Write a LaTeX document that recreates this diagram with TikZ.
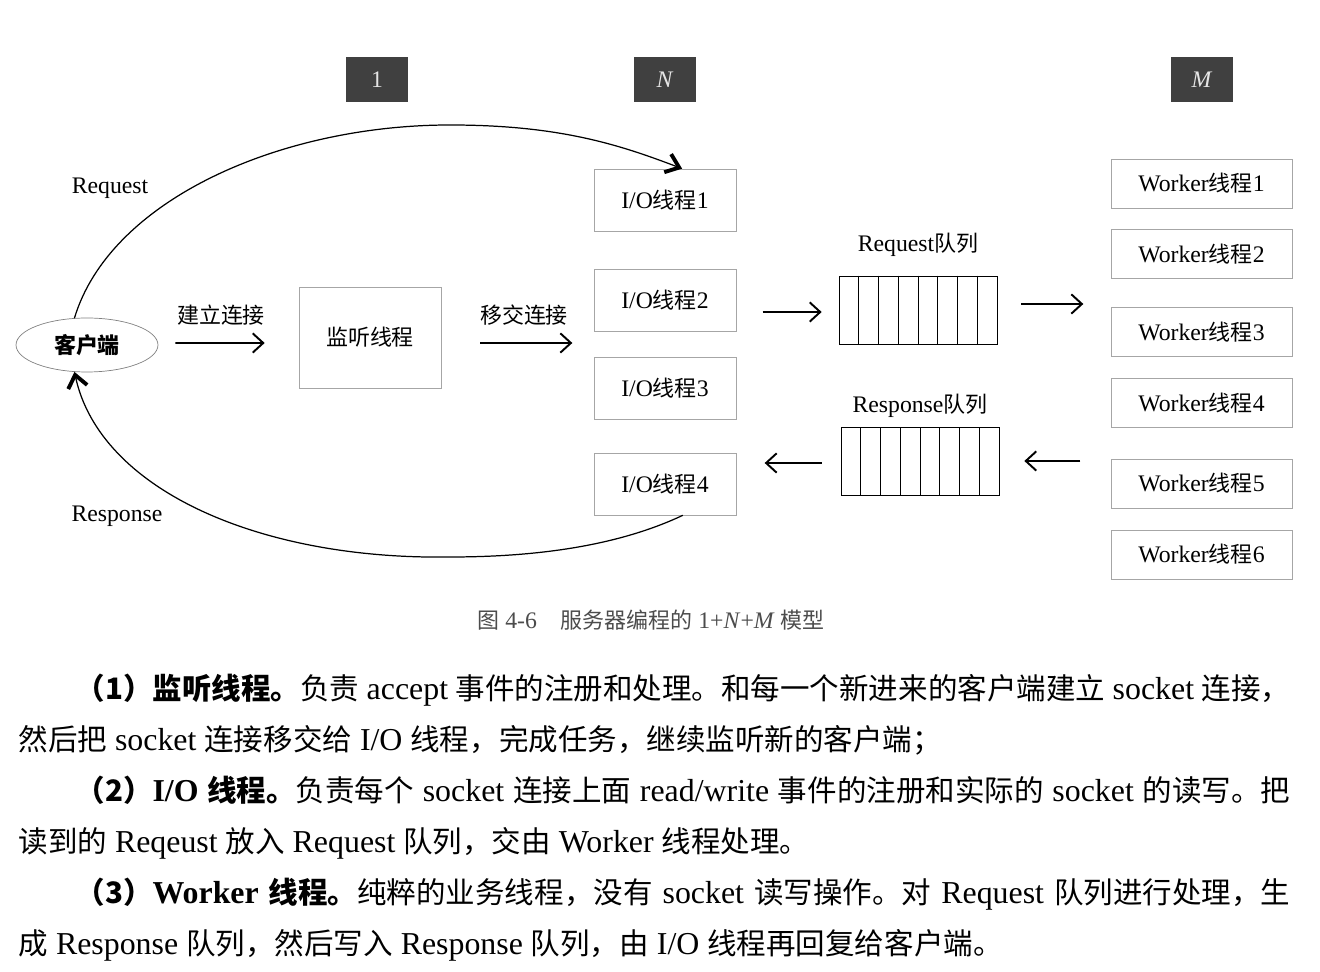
\documentclass[tikz,border=0pt]{standalone}
\usepackage{fontspec}
\setmainfont[Scale=1.08]{Liberation Serif}
\newfontfamily\cjk{Noto Sans CJK SC}
\usepackage{tikz}
\usetikzlibrary{arrows.meta,positioning,calc,shapes.geometric}

\newcommand{\hz}[1]{{\cjk #1}}
\newcommand{\lbl}{\fontsize{12.5}{15}\selectfont}
\newcommand{\bodyfont}{\fontsize{16.8}{20}\selectfont}

\begin{document}
\begin{tikzpicture}[x=0.02cm,y=-0.02cm,>={Straight Barb[length=6pt,width=11pt]},on grid,semithick]
\tikzstyle{tag} = [rectangle,fill={rgb:black,3;white,1},text=white!90!black,minimum width=1.24cm,minimum height=0.9cm,inner sep=0pt,font=\lbl]
\tikzstyle{iobox} = [rectangle,draw=gray!70,thin,minimum width=2.84cm,minimum height=1.24cm,font=\lbl]
\tikzstyle{wbox} = [rectangle,draw=gray!70,thin,minimum width=3.62cm,minimum height=0.98cm,font=\lbl]
\tikzstyle{queue} = [rectangle,draw=black,thin,minimum width=3.16cm,minimum height=1.36cm]
\tikzstyle{txt} = [inner sep=0pt,font=\lbl]
\tikzstyle{para} = [inner sep=0pt,anchor=base west,font=\bodyfont]
\tikzset{flow/.style={->,line width=1.1pt}}
\tikzset{loop/.style={-{Straight Barb[length=7pt,width=11pt,line width=2.2pt]},line width=0.7pt}}

\useasboundingbox (0,0) rectangle (1320,972);

    % column tags
    \node[tag] (t1) at (377,80) {1};
    \node[tag] (tn) at (665,80) {\textit{N}};
    \node[tag] (tm) at (1202,80) {\textit{M}};

    \node[ellipse,draw=gray,thin,minimum width=2.84cm,minimum height=1.08cm,font=\lbl] (client) at (87,345) {\hz{\bfseries 客户端}};
    \node[iobox,minimum height=2.02cm] (listen) at (370,337.5) {\hz{监听线程}};

    % I/O threads
    \node[iobox] (io1) at (665,200) {I/O\hz{线程}1};
    \node[iobox] (io2) [below=2cm of io1] {I/O\hz{线程}2};
    \node[iobox] (io3) [below=1.76cm of io2] {I/O\hz{线程}3};
    \node[iobox] (io4) [below=1.92cm of io3] {I/O\hz{线程}4};

    % queues
    \node[queue] (reqq) at (918,310) {};
    \node[queue] (resq) at (920,461.5) {};
    \foreach \q in {reqq,resq}
      \foreach \i in {1,...,7}
        \draw[thin] ($(\q.north west)!\i/8!(\q.north east)$) -- ($(\q.south west)!\i/8!(\q.south east)$);
    \node[txt] (reql) [above=1.3cm of reqq] {Request\hz{队列}};
    \node[txt] (resl) [above=1.11cm of resq] {Response\hz{队列}};

    % worker threads
    \node[wbox] (w1) at (1201.5,183.5) {Worker\hz{线程}1};
    \node[wbox] (w2) [below=1.41cm of w1] {Worker\hz{线程}2};
    \node[wbox] (w3) [below=1.56cm of w2] {Worker\hz{线程}3};
    \node[wbox] (w4) [below=1.42cm of w3] {Worker\hz{线程}4};
    \node[wbox] (w5) [below=1.61cm of w4] {Worker\hz{线程}5};
    \node[wbox] (w6) [below=1.42cm of w5] {Worker\hz{线程}6};

    \node[txt] (lreq) at (110,188) {Request};
    \node[txt] (lres) at (117,516) {Response};
    \node[txt] (lcon) at (221,315) {\hz{建立连接}};
    \node[txt] (lmov) at (524,315) {\hz{移交连接}};

    \draw ($(client.east)+(17,-2)$) edge [flow] ($(listen.west)+(-34,5.5)$);
    \draw ($(listen.east)+(39,5.5)$) edge [flow] ($(listen.east)+(131,5.5)$);
    \draw ($(reqq.west)+(-76,2)$) edge [flow] ($(reqq.west)+(-17,2)$);
    \draw ($(reqq.east)+(24,-6)$) edge [flow] ($(reqq.east)+(86,-6)$);
    \draw ($(resq.west)+(-19,1.5)$) edge [flow] ($(resq.west)+(-76,1.5)$);
    \draw ($(resq.east)+(81,-0.5)$) edge [flow] ($(resq.east)+(25,-0.5)$);

    \coordinate (ioin) at ($(io1.north)!0.24!(io1.north east)$);
    \coordinate (ioout) at ($(io4.south)!0.25!(io4.south east)$);
    \draw[loop] (client.115) .. controls (110,200) and (280,125) .. (450,125)
        .. controls (560,125) and (620,145) .. (ioin);
    \draw[loop] (ioout) .. controls (620,545) and (540,557) .. (450,557)
        .. controls (260,560) and (100,490) .. (client.245);

    \node[txt,text=gray!60!black] (cap) at (651,620) {\hz{图} 4-6\quad\hz{服务器编程的} 1+\textit{N}+\textit{M} \hz{模型}};

    % text below the figure
    \node[para] (p1) at (75,700) {\makebox[24.3cm][s]{\textbf{\hz{（1）监听线程。}}\hz{负责} accept \hz{事件的注册和处理。和每一个新进来的客户端建立} socket \hz{连接，}}};
    \node[para] (p2) at (18,751) {\hz{然后把} socket \hz{连接移交给} I/O \hz{线程，完成任务，继续监听新的客户端；}};
    \node[para] (p3) at (75,802) {\makebox[24.3cm][s]{\textbf{\hz{（2）}I/O \hz{线程。}}\hz{负责每个} socket \hz{连接上面} read/write \hz{事件的注册和实际的} socket \hz{的读写。把}}};
    \node[para] (p4) at (18,853) {\hz{读到的} Reqeust \hz{放入} Request \hz{队列，交由} Worker \hz{线程处理。}};
    \node[para] (p5) at (75,904) {\makebox[24.3cm][s]{\textbf{\hz{（3）}Worker \hz{线程。}}\hz{纯粹的业务线程，没有} socket \hz{读写操作。对} Request \hz{队列进行处理，生}}};
    \node[para] (p6) at (18,955) {\hz{成} Response \hz{队列，然后写入} Response \hz{队列，由} I/O \hz{线程再回复给客户端。}};
\end{tikzpicture}
\end{document}
